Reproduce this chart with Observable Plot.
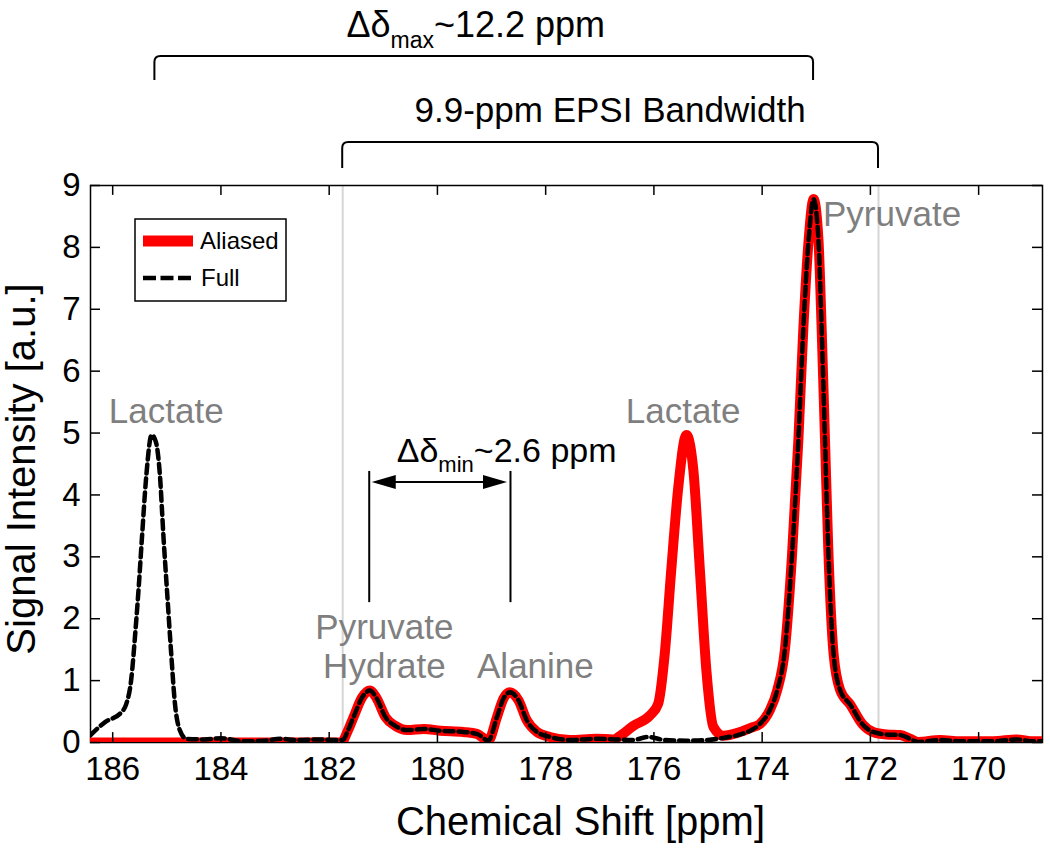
<!DOCTYPE html>
<html>
<head>
<meta charset="utf-8">
<script src="https://cdn.jsdelivr.net/npm/d3@7"></script>
<script src="https://cdn.jsdelivr.net/npm/@observablehq/plot@0.6"></script>
<style>
  body { margin: 0; background: #fff; }
  #chart { width: 1050px; height: 852px; }
</style>
</head>
<body>
<div id="chart"></div>
<script>
// ---------- data ----------
const xTicks = [186, 184, 182, 180, 178, 176, 174, 172, 170];
const yTicks = [0, 1, 2, 3, 4, 5, 6, 7, 8, 9];
const xDomain = [186.41, 168.82];
const yDomain = [0, 9];

const fullPpm = [186.41,186.14,185.85,185.75,185.66,185.58,185.52,185.46,185.38,185.28,185.2,185.13,185.06,185.0,184.92,184.85,184.76,184.64,184.3,184.0,183.6,183.2,182.9,182.6,182.2,181.95,181.75,181.65,181.55,181.39,181.25,181.12,180.96,180.78,180.56,180.25,179.95,179.52,179.27,179.06,178.9,178.78,178.66,178.5,178.35,178.16,177.92,177.55,177.06,176.7,176.4,176.1,175.8,175.4,175.0,174.75,174.45,174.2,174.04,173.86,173.72,173.58,173.45,173.33,173.24,173.14,173.05,172.96,172.9,172.84,172.78,172.68,172.56,172.37,172.15,171.95,171.7,171.45,171.27,171.12,170.71,170.34,169.73,169.3,168.99,168.82];
const fullIntensity = [0.12,0.33,0.48,0.62,1.0,1.8,2.5,3.3,4.3,4.97,4.85,4.35,3.3,2.5,1.45,0.63,0.2,0.06,0.05,0.07,0.02,0.03,0.06,0.04,0.05,0.04,0.04,0.2,0.41,0.73,0.84,0.71,0.41,0.27,0.2,0.22,0.19,0.17,0.14,0.03,0.41,0.71,0.81,0.68,0.36,0.17,0.09,0.04,0.06,0.05,0.04,0.09,0.04,0.03,0.04,0.07,0.12,0.2,0.3,0.52,0.85,1.5,3.0,4.9,6.67,8.13,8.78,8.13,6.67,4.93,3.18,1.43,0.85,0.61,0.3,0.17,0.13,0.12,0.06,0.01,0.04,0.02,0.02,0.05,0.02,0.02];

const aliasedPpm = [186.41,185.0,184.0,183.0,182.0,181.78,181.65,181.55,181.39,181.25,181.12,180.96,180.78,180.56,180.25,179.95,179.52,179.27,179.06,178.9,178.78,178.66,178.5,178.35,178.16,177.92,177.55,177.06,176.75,176.62,176.38,176.07,175.92,175.8,175.68,175.55,175.4,175.27,175.15,175.03,174.9,174.72,174.41,174.2,174.04,173.86,173.72,173.58,173.45,173.33,173.24,173.14,173.05,172.96,172.9,172.84,172.78,172.68,172.56,172.37,172.15,171.95,171.7,171.45,171.27,171.12,170.71,170.34,169.73,169.3,168.99,168.82];
const aliasedIntensity = [0,0,0,0,0,0,0.2,0.41,0.73,0.84,0.71,0.41,0.27,0.2,0.22,0.19,0.17,0.14,0.03,0.41,0.71,0.81,0.68,0.36,0.17,0.09,0.04,0.06,0.05,0.11,0.27,0.44,0.63,1.43,2.78,4.12,4.97,4.39,2.78,1.16,0.25,0.11,0.17,0.24,0.3,0.52,0.85,1.5,3.0,4.9,6.67,8.13,8.78,8.13,6.67,4.93,3.18,1.43,0.85,0.61,0.3,0.17,0.13,0.12,0.06,0.01,0.04,0.02,0.02,0.05,0.02,0.02];

const seriesNames = ["Aliased", "Full"];
const peakLabels = ["Lactate", "Lactate", "Pyruvate", "Pyruvate\nHydrate", "Alanine"];
const peakLabelPpm = [185.01, 175.46, 171.6, 180.98, 178.19];
const peakLabelIntensity = [5.36, 5.36, 8.55, 1.56, 1.24];

const maxSpanPpm = [185.22, 173.05];      // Δδmax ~ 12.2 ppm
const bandwidthPpm = [181.75, 171.85];    // 9.9-ppm EPSI bandwidth
const minSpanPpm = [181.26, 178.65];      // Δδmin ~ 2.6 ppm
const minSpanRange = [2.26, 4.38];
const minArrowLevel = 4.2;
const minTextLevel = 4.52;

const xLabel = "Chemical Shift [ppm]";
const yLabel = "Signal Intensity [a.u.]";

// ---------- tables ----------
const fullRows = fullPpm.map((p, i) => ({ppm: p, val: fullIntensity[i]}));
const aliasedRows = aliasedPpm.map((p, i) => ({ppm: p, val: aliasedIntensity[i]}));
const labelRows = peakLabels.map((t, i) => ({text: t, ppm: peakLabelPpm[i], val: peakLabelIntensity[i]}));

const FONT = "'Liberation Sans', Arial, Helvetica, sans-serif";

function annotations(index, scales, values, dims) {
  const x = scales.x, y = scales.y;
  const g = d3.create("svg:g").attr("font-family", FONT);
  const L = dims.marginLeft, T = dims.marginTop;

  const bracket = (a, b, top, bottom) => {
    const x1 = x(a), x2 = x(b), r = 6;
    g.append("path")
      .attr("d", `M${x1},${bottom}V${top + r}Q${x1},${top} ${x1 + r},${top}H${x2 - r}Q${x2},${top} ${x2},${top + r}V${bottom}`)
      .attr("fill", "none").attr("stroke", "#000").attr("stroke-width", 2);
  };
  bracket(maxSpanPpm[0], maxSpanPpm[1], 56, 80);
  bracket(bandwidthPpm[0], bandwidthPpm[1], 142, 168);

  const subText = (tx, ty, anchor, size, main, sub, rest) => {
    const t = g.append("text").attr("x", tx).attr("y", ty)
      .attr("text-anchor", anchor).attr("font-size", size).attr("fill", "#000");
    t.append("tspan").text(main);
    t.append("tspan").attr("font-size", Math.round(size * 0.64)).attr("dy", size * 0.3).text(sub);
    t.append("tspan").attr("dy", -size * 0.3).text(rest);
  };
  subText((x(maxSpanPpm[0]) + x(maxSpanPpm[1])) / 2 - 8, 37, "middle", 36, "Δδ", "max", "~12.2 ppm");
  g.append("text")
    .attr("x", (x(bandwidthPpm[0]) + x(bandwidthPpm[1])) / 2).attr("y", 122)
    .attr("text-anchor", "middle").attr("font-size", 35).attr("fill", "#000")
    .text("9.9-ppm EPSI Bandwidth");
  subText(x(minSpanPpm[0]) + 28, y(minTextLevel), "start", 34, "Δδ", "min", "~2.6 ppm");

  // double-headed arrow
  const ya = y(minArrowLevel);
  const xa = x(minSpanPpm[0]) + 3, xb = x(minSpanPpm[1]) - 3, hl = 24, hw = 7;
  g.append("line").attr("x1", xa + hl - 2).attr("x2", xb - hl + 2).attr("y1", ya).attr("y2", ya)
    .attr("stroke", "#000").attr("stroke-width", 2);
  g.append("path").attr("d", `M${xa},${ya}L${xa + hl},${ya - hw}L${xa + hl},${ya + hw}Z`).attr("fill", "#000");
  g.append("path").attr("d", `M${xb},${ya}L${xb - hl},${ya - hw}L${xb - hl},${ya + hw}Z`).attr("fill", "#000");

  // legend
  g.append("rect").attr("x", L + 45).attr("y", T + 34).attr("width", 151).attr("height", 82)
    .attr("fill", "#fff").attr("stroke", "#000").attr("stroke-width", 1.5);
  g.append("line").attr("x1", L + 53).attr("x2", L + 103).attr("y1", T + 56).attr("y2", T + 56)
    .attr("stroke", "#ff0000").attr("stroke-width", 11);
  g.append("line").attr("x1", L + 53).attr("x2", L + 103).attr("y1", T + 93).attr("y2", T + 93)
    .attr("stroke", "#000").attr("stroke-width", 4.5).attr("stroke-dasharray", "13,4.5");
  g.append("text").attr("x", L + 110).attr("y", T + 56).attr("dy", "0.35em").attr("text-anchor", "start")
    .attr("font-size", 24).attr("fill", "#000").text(seriesNames[0]);
  g.append("text").attr("x", L + 111).attr("y", T + 93).attr("dy", "0.35em").attr("text-anchor", "start")
    .attr("font-size", 24).attr("fill", "#000").text(seriesNames[1]);
  return g.node();
}

const tickLenY = 0.16, tickLenX = 0.185;

const chart = Plot.plot({
  width: 1050,
  height: 852,
  marginLeft: 90,
  marginRight: 8,
  marginTop: 185,
  marginBottom: 110,
  style: {fontFamily: FONT, fontSize: "33px", background: "#fff", color: "#000"},
  x: {domain: xDomain},
  y: {domain: yDomain},
  marks: [
    Plot.ruleX(bandwidthPpm, {x: d => d, stroke: "#d6d6d6", strokeWidth: 2}),
    Plot.frame({stroke: "#000", strokeWidth: 1.5}),
    Plot.line(aliasedRows, {x: "ppm", y: "val", stroke: "#ff0000", strokeWidth: 10, curve: "monotone-x", clip: true, strokeLinejoin: "round", strokeLinecap: "round"}),
    Plot.line(fullRows, {x: "ppm", y: "val", stroke: "#000", strokeWidth: 4.5, strokeDasharray: "9,5", curve: "monotone-x", clip: true}),
    Plot.ruleX(xTicks, {x: d => d, y1: yDomain[0], y2: yDomain[0] + tickLenY, stroke: "#000", strokeWidth: 1.5}),
    Plot.ruleX(xTicks, {x: d => d, y1: yDomain[1], y2: yDomain[1] - tickLenY, stroke: "#000", strokeWidth: 1.5}),
    Plot.ruleY(yTicks, {y: d => d, x1: xDomain[0], x2: xDomain[0] - tickLenX, stroke: "#000", strokeWidth: 1.5}),
    Plot.ruleY(yTicks, {y: d => d, x1: xDomain[1], x2: xDomain[1] + tickLenX, stroke: "#000", strokeWidth: 1.5}),
    Plot.ruleX(minSpanPpm, {x: d => d, y1: minSpanRange[0], y2: minSpanRange[1], stroke: "#000", strokeWidth: 2}),
    Plot.axisX({ticks: xTicks, tickSize: 0, tickPadding: 14, fontSize: 33, label: null, tickFormat: d => String(d)}),
    Plot.axisY({ticks: yTicks, tickSize: 0, tickPadding: 10, fontSize: 33, label: null, tickFormat: d => String(d)}),
    Plot.text(labelRows, {x: "ppm", y: "val", text: "text", fill: "#7f7f7f", fontSize: 35, lineHeight: 1.12}),
    Plot.text([xLabel], {frameAnchor: "bottom", text: d => d, dy: 80, dx: 14, fontSize: 40, fill: "#000", textAnchor: "middle", lineAnchor: "middle"}),
    Plot.text([yLabel], {frameAnchor: "left", text: d => d, dx: -68, dy: 5, rotate: -90, fontSize: 40, fill: "#000", textAnchor: "middle", lineAnchor: "middle"}),
    annotations
  ]
});
document.getElementById("chart").appendChild(chart);
</script>
</body>
</html>
